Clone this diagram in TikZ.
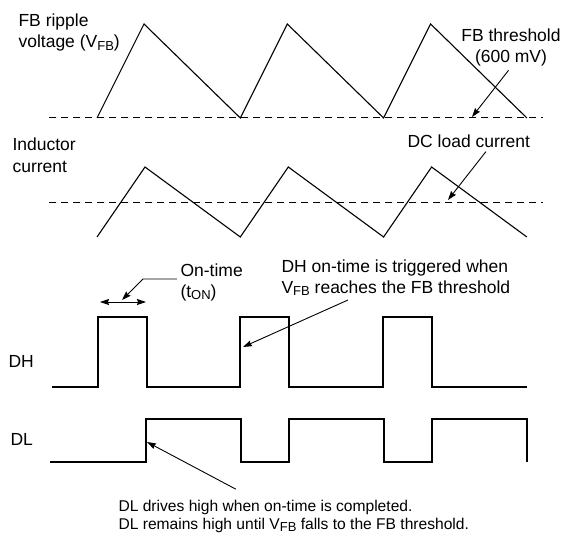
\documentclass[tikz,border=0pt]{standalone}
\usepackage{fontspec}
\setmainfont{Liberation Sans}
\usetikzlibrary{arrows.meta}
\newcommand{\lsub}[1]{\raisebox{-2.5pt}{\fontsize{13}{13}\selectfont #1}}

\begin{document}
\begin{tikzpicture}[x=1pt,y=-1pt,line width=1.1pt,
  lbl/.style={inner sep=0pt,anchor=base west,align=left,font=\fontsize{17.5}{21}\selectfont},
  thr/.style={dash pattern=on 7pt off 5pt,line width=1pt},
  ptr/.style={-{Stealth[length=9pt,width=6pt,inset=1pt]},line width=0.9pt}]
\useasboundingbox (0,0) rectangle (563,535);

% waveforms
\draw[thr] (49,118) -- (543,118);
\draw (97,118) \foreach \t in {0,1,2} {-- ++(47,-94) -- ++(96.3,94)};
\draw[thr] (49,202) -- (543,202);
\draw (97,237) \foreach \t in {0,1,2} {-- ++(48,-70) -- ++(95.3,70)};
\draw (52,387) \foreach \t in {98,240,383} {-| (\t,317) -| ({\t+49},387)} -- (527,387);
\draw (50,462) \foreach \t in {146,289,432} {-| (\t,419) -| ({\t+95},462)};

% labels (base = last line)
\node[lbl] (vfb) at (18,48) {FB ripple\\voltage (V\lsub{FB})};
\node[lbl,font=\fontsize{17.5}{22}\selectfont] (il) at (12,172) {Inductor\\current};
\node[lbl,anchor=base,align=center] (fbthr) at (511,63) {FB threshold\\(600 mV)};
\node[lbl] (dcl) at (407,147) {DC load current};
\node[lbl] (ont) at (180,297) {On-time\\(t\lsub{ON})};
\node[lbl] (trig) at (281,293) {DH on-time is triggered when\\V\lsub{FB} reaches the FB threshold};
\node[lbl] (dh) at (8,367) {DH};
\node[lbl] (dl) at (10,445) {DL};
\node[lbl,font=\fontsize{15.6}{18}\selectfont] (dld) at (118,529)
  {DL drives high when on-time is completed.\\DL remains high until V\lsub{FB} falls to the FB threshold.};

% pointers
\coordinate (thrhit) at (472,117);
\coordinate (dchit) at (448,200);
\coordinate (tonA) at (100,302);
\coordinate (tonB) at (146,302);
\coordinate (tonmid) at (122,300);
\coordinate (trighit) at (243,347);
\coordinate (dlhit) at (147,442);

\draw[ptr,shorten <=4pt] (fbthr.south) -- (thrhit);
\draw[ptr] ([xshift=17pt,yshift=-4pt]dcl.south) -- (dchit);
\draw[{Stealth[length=9pt,width=6pt,inset=1pt]}-{Stealth[length=9pt,width=6pt,inset=1pt]},line width=0.9pt] (tonA) -- (tonB);
\draw[ptr] ([xshift=-3pt,yshift=3pt]ont.west) -- ++(-34,0) -- (tonmid);
\draw[ptr] ([xshift=-48pt,yshift=-4pt]trig.south) -- (trighit);
\draw[ptr] ([xshift=-58pt,yshift=10pt]dld.north) -- (dlhit);
\end{tikzpicture}
\end{document}
